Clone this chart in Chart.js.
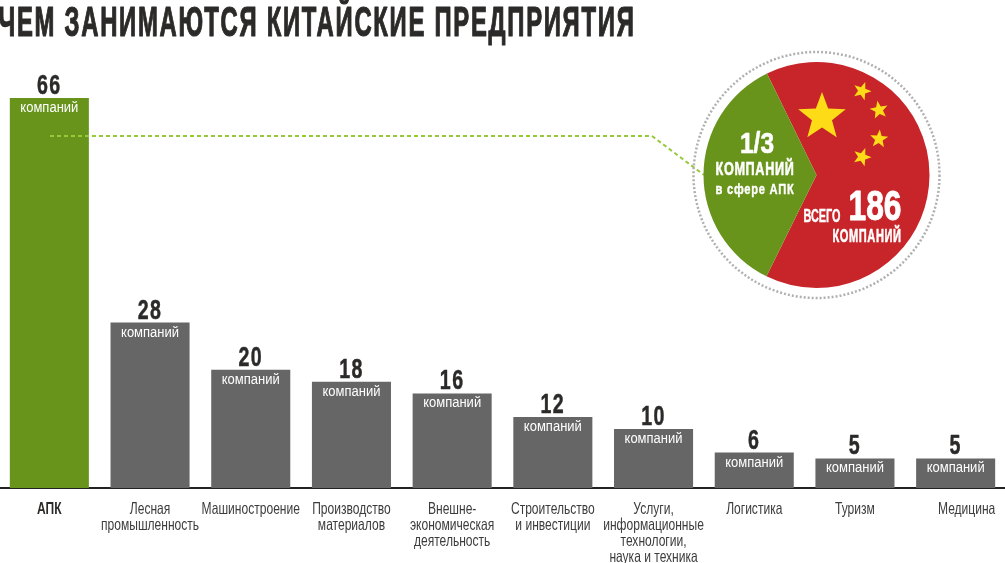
<!DOCTYPE html>
<html>
<head>
<meta charset="utf-8">
<script src="https://cdn.jsdelivr.net/npm/chart.js@4"></script>
<style>
  body { margin: 0; background: #fff; overflow: hidden; }
  #wrap { position: relative; width: 1005px; height: 563px; overflow: hidden; }
  #barChart { position: absolute; left: -1px; top: 0; }
  #pieChart { position: absolute; left: 686px; top: 45px; }
</style>
</head>
<body>
<div id="wrap">
  <canvas id="barChart" width="1007" height="563"></canvas>
  <canvas id="pieChart" width="261" height="260"></canvas>
</div>
<script>
const titleText = "ЧЕМ ЗАНИМАЮТСЯ КИТАЙСКИЕ ПРЕДПРИЯТИЯ";
const categories = [
    ["АПК"],
    ["Лесная", "промышленность"],
    ["Машиностроение"],
    ["Производство", "материалов"],
    ["Внешне-", "экономическая", "деятельность"],
    ["Строительство", "и инвестиции"],
    ["Услуги,", "информационные", "технологии,", "наука и техника"],
    ["Логистика"],
    ["Туризм"],
    ["Медицина"]
];
const companies = [66, 28, 20, 18, 16, 12, 10, 6, 5, 5];
const unitLabel = "компаний";
const pieLabels = ["Остальные", "АПК"];
const pieValues = [120, 66];

const FONT = '"Liberation Sans", sans-serif';
const GREEN = "#68941c";
const GRAY = "#666666";
const RED = "#c8252a";
const YELLOW = "#fddc17";
const DARK = "#2b2a29";

// no condensed font here, so squeeze text by hand. sx is a factor, width wins if given
function putText(ctx, text, x, y, font, color, o) {
    o = o || {};
    ctx.save();
    ctx.font = font;
    ctx.fillStyle = color;
    ctx.textAlign = "center";
    ctx.textBaseline = "alphabetic";
    if (o.spacing) ctx.letterSpacing = o.spacing + "px";
    let sx = o.width ? o.width / ctx.measureText(text).width : (o.sx || 1);
    ctx.translate(x, y);
    ctx.scale(sx, 1);
    ctx.fillText(text, 0, 0);
    if (o.heavy) {
        ctx.strokeStyle = color;
        ctx.lineWidth = o.heavy;
        ctx.lineJoin = "round";
        ctx.strokeText(text, 0, 0);
    }
    ctx.restore();
}

function drawStar(ctx, x, y, r, rot) {
    ctx.save();
    ctx.translate(x, y);
    ctx.rotate(rot * Math.PI / 180);
    ctx.beginPath();
    for (let i = 0; i < 10; i++) {
        let a = -Math.PI / 2 + i * Math.PI / 5;
        let d = i % 2 ? r * 0.42 : r;
        ctx.lineTo(Math.cos(a) * d, Math.sin(a) * d);
    }
    ctx.closePath();
    ctx.fillStyle = YELLOW;
    ctx.fill();
    ctx.restore();
}

const barDecor = {
    id: "barDecor",
    afterDatasetsDraw(chart) {
        let ctx = chart.ctx;
        putText(ctx, titleText, 318, 36, 'bold 42px ' + FONT, DARK, { width: 637, spacing: 3, heavy: 1.2 });

        chart.getDatasetMeta(0).data.forEach((bar, i) => {
            putText(ctx, String(companies[i]), bar.x, bar.y - 4, 'bold 28px ' + FONT, DARK, { sx: 0.7, spacing: 2, heavy: 0.5 });
            putText(ctx, unitLabel, bar.x, bar.y + 14, '15.5px ' + FONT, "#ffffff", { width: 58 });
        });

        // tick labels, placed from the category scale
        let xScale = chart.scales.x;
        categories.forEach((lines, i) => {
            let shift = i === categories.length - 1 ? 11 : 0; // last one sits off centre in the original
            lines.forEach((line, n) => {
                putText(ctx, line, xScale.getPixelForTick(i) + shift, 514 + n * 16,
                    (i === 0 ? 'bold ' : '') + '16.5px ' + FONT, i === 0 ? DARK : "#3c3c3c", { sx: 0.73 });
            });
        });

        // leader from the first bar to the badge
        ctx.save();
        ctx.strokeStyle = "#97c93d";
        ctx.lineWidth = 2;
        ctx.setLineDash([4, 3]);
        ctx.beginPath();
        ctx.moveTo(51, 136);
        ctx.lineTo(653, 136);
        ctx.lineTo(705, 175);
        ctx.stroke();
        ctx.restore();
    }
};

const badgeDecor = {
    id: "badgeDecor",
    afterDatasetsDraw(chart) {
        let ctx = chart.ctx;
        let arc = chart.getDatasetMeta(0).data[0];
        let cx = arc.x, cy = arc.y;
        let px = v => v - 686, py = v => v - 45;

        ctx.save();
        ctx.strokeStyle = "#b0b0b0";
        ctx.lineWidth = 2.5;
        ctx.setLineDash([2, 2]);
        ctx.beginPath();
        ctx.arc(cx, cy, 123, 0, Math.PI * 2);
        ctx.stroke();
        ctx.restore();

        drawStar(ctx, px(822), py(117), 25, 0);
        drawStar(ctx, px(862), py(91), 9.5, 20);
        drawStar(ctx, px(879), py(110), 9.5, -10);
        drawStar(ctx, px(879), py(139), 9.5, 5);
        drawStar(ctx, px(862), py(157), 9.5, 20);

        putText(ctx, "1/3", px(757), py(153), 'bold 29px ' + FONT, "#fff", { width: 34, heavy: 0.6 });
        putText(ctx, "КОМПАНИЙ", px(755), py(175), 'bold 19px ' + FONT, "#fff", { width: 79, spacing: 1, heavy: 0.6 });
        putText(ctx, "в сфере АПК", px(755), py(194), 'bold 15px ' + FONT, "#fff", { width: 79, spacing: 1, heavy: 0.4 });
        putText(ctx, "ВСЕГО", px(822), py(222), 'bold 18px ' + FONT, "#fff", { width: 37, heavy: 0.4 });
        putText(ctx, "186", px(875), py(220), 'bold 43px ' + FONT, "#fff", { width: 53, heavy: 1 });
        putText(ctx, "КОМПАНИЙ", px(867), py(242), 'bold 19px ' + FONT, "#fff", { width: 69, spacing: 1, heavy: 0.6 });
    }
};

new Chart(document.getElementById("barChart").getContext("2d"), {
    type: "bar",
    plugins: [barDecor],
    data: {
        labels: categories,
        datasets: [{
            data: companies,
            backgroundColor: companies.map((v, i) => i === 0 ? GREEN : GRAY),
            barPercentage: 0.785,
            categoryPercentage: 1
        }]
    },
    options: {
        responsive: false,
        animation: false,
        layout: { padding: 0 },
        plugins: { legend: { display: false }, tooltip: { enabled: false } },
        scales: {
            x: {
                afterFit: scale => { scale.height = 75; },
                grid: { display: false },
                border: { color: "#222222", width: 2 },
                ticks: { display: false, autoSkip: false }
            },
            y: { display: false, min: 0, max: 82.6 }
        }
    }
});

new Chart(document.getElementById("pieChart").getContext("2d"), {
    type: "pie",
    plugins: [badgeDecor],
    data: {
        labels: pieLabels,
        datasets: [{
            data: pieValues,
            backgroundColor: [RED, GREEN],
            borderWidth: 0
        }]
    },
    options: {
        responsive: false,
        animation: false,
        rotation: -26,
        layout: { padding: 17 },
        plugins: { legend: { display: false }, tooltip: { enabled: false } }
    }
});
</script>
</body>
</html>
